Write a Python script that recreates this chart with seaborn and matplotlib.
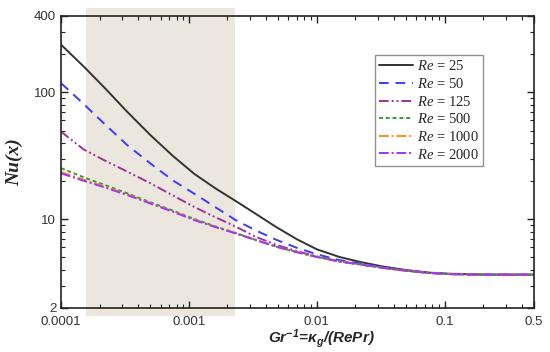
import numpy as np
import pandas as pd
import matplotlib
matplotlib.use('Agg')
import matplotlib.pyplot as plt
import matplotlib.ticker as mticker
import seaborn as sns

# Gr^-1 positions
gr_inv = [1e-4, 1.5e-4, 2.2e-4, 3.3e-4, 5e-4, 7.5e-4, 1.1e-3, 1.6e-3, 2.3e-3,
          3.3e-3, 4.8e-3, 7e-3, 1e-2, 1.5e-2, 2.2e-2, 3.3e-2, 5e-2, 7.5e-2,
          0.11, 0.2, 0.5]

nu_re25 = [237, 160, 108, 70, 46, 31.5, 22.8, 17.6, 14.0, 11.1, 8.7, 6.95,
           5.8, 5.05, 4.6, 4.24, 3.98, 3.8, 3.72, 3.67, 3.66]
nu_re50 = [118, 81, 56, 38.3, 27.5, 20.2, 15.9, 12.5, 9.9, 8.2, 6.9, 5.95,
           5.3, 4.77, 4.48, 4.18, 3.94, 3.79, 3.7, 3.66, 3.66]
nu_re125 = [49, 35.5, 29.0, 23.7, 19.2, 15.4, 12.5, 10.4, 8.8, 7.3, 6.3, 5.6,
            5.1, 4.67, 4.41, 4.14, 3.93, 3.78, 3.7, 3.66, 3.66]
nu_re500 = [25.3, 21.4, 18.6, 16.0, 13.6, 11.7, 10.05, 8.8, 7.82, 6.9, 6.1, 5.5,
            5.05, 4.65, 4.4, 4.14, 3.93, 3.78, 3.7, 3.66, 3.66]
nu_re1000 = [23.6, 20.5, 18.1, 15.7, 13.4, 11.55, 9.95, 8.75, 7.8, 6.9, 6.1, 5.5,
             5.05, 4.65, 4.4, 4.14, 3.93, 3.78, 3.7, 3.66, 3.66]
nu_re2000 = [23.0, 20.1, 17.8, 15.5, 13.3, 11.45, 9.85, 8.7, 7.75, 6.88, 6.08, 5.5,
             5.05, 4.65, 4.4, 4.14, 3.93, 3.78, 3.7, 3.66, 3.66]

re_labels = ['25', '50', '125', '500', '1000', '2000']
series = [nu_re25, nu_re50, nu_re125, nu_re500, nu_re1000, nu_re2000]
colors = ['#333333', '#3b3bff', '#a0309a', '#2e9e2e', '#ff8c1a', '#a033ff']
styles = ['-', (0, (5, 3.5)), (0, (5, 1.5, 1, 1.5, 1, 1.5)), (0, (2, 1.5)),
          (0, (5, 1.5, 1, 1.5)), (0, (5, 1.5, 1, 1.5))]

shade_lo, shade_hi = 1.57e-4, 2.3e-3

sns.set_theme(style='ticks')
plt.rcParams['font.family'] = ['Liberation Sans', 'DejaVu Sans']
plt.rcParams['mathtext.fontset'] = 'custom'
plt.rcParams['mathtext.it'] = 'Liberation Serif:italic'
plt.rcParams['mathtext.rm'] = 'Liberation Serif'
plt.rcParams['mathtext.sf'] = 'Liberation Sans:bold:italic'

fig = plt.figure(figsize=(5.5, 3.52), dpi=100)
ax = fig.add_axes([0.111, 0.125, 0.86, 0.83])

span = ax.axvspan(shade_lo, shade_hi, ymin=-0.028, ymax=1.028,
                  color='#ebe7de', zorder=0, lw=0)
span.set_clip_on(False)

for lab, nu, c, ls in zip(re_labels, series, colors, styles):
    df = pd.DataFrame({'x': gr_inv, 'nu': nu})
    sns.lineplot(data=df, x='x', y='nu', ax=ax, color=c, linestyle=ls,
                 lw=1.4, label=r'$Re$ = ' + lab, zorder=3)

ax.set_xscale('log')
ax.set_yscale('log')
ax.set_xlim(1e-4, 0.5)
ax.set_ylim(2, 400)

ax.set_xticks([1e-4, 1e-3, 1e-2, 0.1, 0.5])
ax.set_xticklabels(['0.0001', '0.001', '0.01', '0.1', '0.5'])
ax.set_yticks([2, 10, 100, 400])
ax.set_yticklabels(['2', '10', '100', '400'])
ax.xaxis.set_minor_locator(mticker.LogLocator(subs=np.arange(2, 10)))
ax.yaxis.set_minor_locator(mticker.LogLocator(subs=np.arange(2, 10)))
ax.xaxis.set_minor_formatter(mticker.NullFormatter())
ax.yaxis.set_minor_formatter(mticker.NullFormatter())

ax.tick_params(which='both', direction='in', top=True, right=True,
               colors='#222222', labelcolor='#333333', labelsize=9.5)
ax.tick_params(axis='x', which='major', pad=6)
ax.tick_params(which='major', length=5, width=1.0)
ax.tick_params(which='minor', length=3, width=0.8)
for s in ax.spines.values():
    s.set_linewidth(1.2)
    s.set_color('#222222')
    s.set_zorder(4)

ax.set_xlabel(r'$\mathsf{Gr^{-1}}$=$\mathsf{\kappa_g}$/(RePr)', fontsize=11,
              fontweight='bold', fontstyle='italic')
ax.xaxis.set_label_coords(0.55, -0.065)
ax.set_ylabel('Nu(x)', fontsize=14, fontweight='bold', fontstyle='italic',
              family='Liberation Serif', labelpad=8)

leg = ax.legend(loc='upper left', bbox_to_anchor=(0.664, 0.866),
                prop={'family': 'Liberation Serif', 'size': 10.5},
                frameon=True, fancybox=False, edgecolor='#777777',
                handlelength=2.3, handletextpad=0.3, labelspacing=0.25,
                borderpad=0.3, borderaxespad=0)
leg.get_frame().set_linewidth(1.0)

fig.savefig('out.png', dpi=100)
